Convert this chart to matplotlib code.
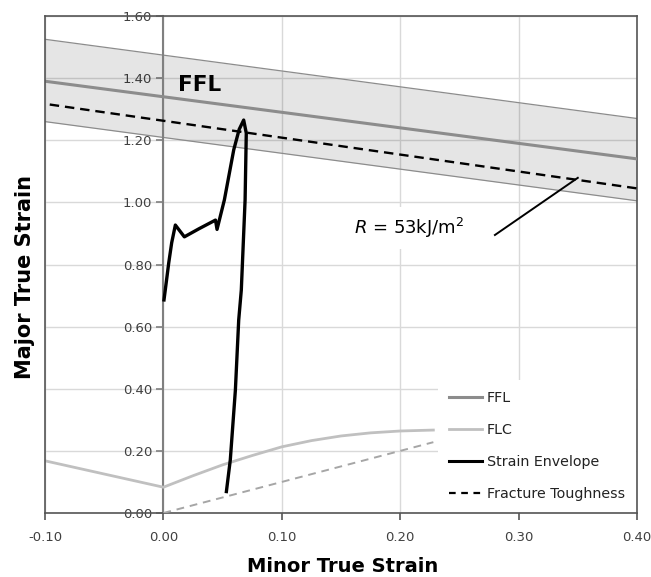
import matplotlib
matplotlib.use("Agg")
import matplotlib.pyplot as plt
from matplotlib.lines import Line2D

plt.rcParams["font.family"] = ["DejaVu Sans"]
plt.rcParams["mathtext.fontset"] = "dejavusans"

# --- data ---
x_ticks = [-0.10, 0.00, 0.10, 0.20, 0.30, 0.40]
y_ticks = [0.00, 0.20, 0.40, 0.60, 0.80, 1.00, 1.20, 1.40, 1.60]

# fracture forming limit with scatter band
ffl_x = [-0.10, 0.40]
ffl_y = [1.39, 1.14]
ffl_upper = [1.525, 1.27]
ffl_lower = [1.26, 1.005]

# forming limit curve
flc_x = [-0.10, 0.00, 0.025, 0.05, 0.075, 0.10, 0.125, 0.15, 0.175, 0.20, 0.228]
flc_y = [0.168, 0.083, 0.120, 0.155, 0.185, 0.213, 0.233, 0.248, 0.258, 0.264, 0.267]

# strain envelope
env_x = [0.0005, 0.003, 0.0045, 0.007, 0.0101, 0.0177, 0.030, 0.044, 0.0453,
         0.0515, 0.0594, 0.064, 0.0678, 0.070, 0.069, 0.0658, 0.0636, 0.0608,
         0.0565, 0.0532]
env_y = [0.686, 0.76, 0.805, 0.87, 0.927, 0.889, 0.915, 0.943, 0.913,
         1.008, 1.169, 1.235, 1.265, 1.223, 1.008, 0.718, 0.621, 0.396,
         0.171, 0.069]

# fracture toughness lines
ft_x = [-0.096, 0.40]
ft_y = [1.315, 1.045]
ft_low_x = [0.00, 0.228]
ft_low_y = [0.00, 0.228]

# leader line for the R label
leader_x = [0.280, 0.350]
leader_y = [0.895, 1.079]

fig = plt.figure(figsize=(6.51, 5.77), dpi=100)
ax = fig.add_axes([45 / 651, 1 - 513 / 577, 592 / 651, 497 / 577])
ax.set_xlim(-0.10, 0.40)
ax.set_ylim(0.0, 1.60)

ax.grid(True, color="#d9d9d9", linewidth=1.0, zorder=0)
ax.set_axisbelow(True)

ax.fill_between(ffl_x, ffl_lower, ffl_upper, color="black", alpha=0.10,
                linewidth=0, zorder=1)
ax.plot(ffl_x, ffl_upper, color="#8c8c8c", linewidth=0.9, zorder=2)
ax.plot(ffl_x, ffl_lower, color="#8c8c8c", linewidth=0.9, zorder=2)
ax.plot(ffl_x, ffl_y, color="#8c8c8c", linewidth=2.2, zorder=3)

ax.plot(flc_x, flc_y, color="#c0c0c0", linewidth=2.0, zorder=3)
ax.plot(ft_low_x, ft_low_y, color="#a6a6a6", linewidth=1.4,
        linestyle=(0, (4, 3)), zorder=3)
ax.plot(ft_x, ft_y, color="black", linewidth=1.7,
        linestyle=(0, (4, 2.5)), zorder=3)
ax.plot(env_x, env_y, color="black", linewidth=2.4, zorder=4,
        solid_joinstyle="round")

ax.text(0.012, 1.378, "FFL", fontsize=15.5, fontweight="bold", ha="left",
        va="center", zorder=5)
ax.plot(leader_x, leader_y, color="black", linewidth=1.4, zorder=5)
ax.text(0.2076, 0.918, r"$R$ = 53kJ/m$^{2}$", fontsize=13, ha="center",
        va="center", zorder=5,
        bbox=dict(boxstyle="square,pad=0.5", facecolor="white",
                  edgecolor="none"))

# axes styling
ax.spines["left"].set_position(("data", 0))
ax.spines["left"].set_color("#808080")
ax.spines["left"].set_linewidth(1.5)
for side in ("top", "right", "bottom"):
    ax.spines[side].set_color("#555555")
    ax.spines[side].set_linewidth(1.2)
ax.axvline(-0.10, color="#555555", linewidth=1.2, clip_on=False, zorder=6)

ax.set_xticks(x_ticks)
ax.set_xticklabels([f"{v:.2f}" for v in x_ticks])
ax.set_yticks(y_ticks)
ax.set_yticklabels([f"{v:.2f}" for v in y_ticks])
ax.tick_params(axis="x", direction="out", length=5, width=1.2, pad=8,
               color="#555555", labelsize=9.5, labelcolor="#404040")
ax.tick_params(axis="y", direction="out", length=5, width=1.2, pad=3,
               color="#808080", labelsize=9.5, labelcolor="#404040")

ax.set_xlabel("Minor True Strain", fontsize=14, fontweight="bold", va="center")
ax.set_ylabel("Major True Strain", fontsize=15, fontweight="bold", va="center")
ax.xaxis.set_label_coords(0.503, -0.107)
ax.yaxis.set_label_coords(-0.034, 0.475)

handles = [
    Line2D([], [], color="#8c8c8c", linewidth=2.2),
    Line2D([], [], color="#c0c0c0", linewidth=2.0),
    Line2D([], [], color="black", linewidth=2.2),
    Line2D([], [], color="black", linewidth=1.6, linestyle=(0, (3, 2.5))),
]
labels = ["FFL", "FLC", "Strain Envelope", "Fracture Toughness"]
leg = ax.legend(handles, labels, loc="lower right", bbox_to_anchor=(1.0, 0.0),
                borderaxespad=0.1, fontsize=10.3, handlelength=2.3,
                handletextpad=0.35, labelspacing=1.25, borderpad=0.75,
                frameon=True, fancybox=False, facecolor="white",
                edgecolor="none", framealpha=1.0)
leg.set_zorder(7)
for t in leg.get_texts():
    t.set_color("#222222")

fig.savefig("out.png", dpi=100)
